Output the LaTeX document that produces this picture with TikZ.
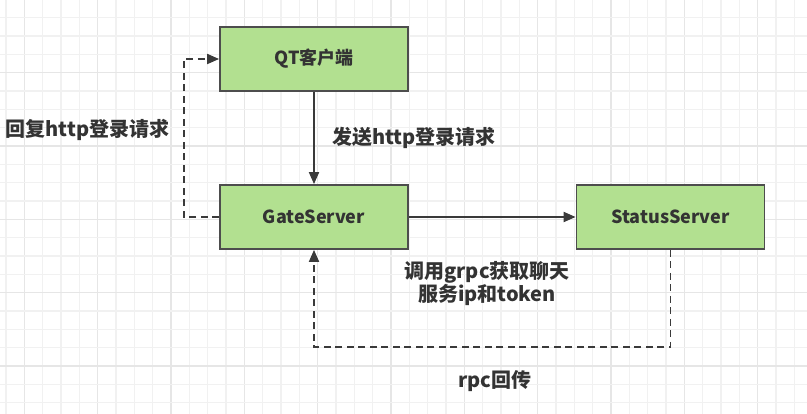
\documentclass[tikz,border=0pt]{standalone}
\usepackage{fontspec}
\setmainfont{Noto Sans CJK SC}
\usetikzlibrary{arrows.meta}
\definecolor{gridminor}{HTML}{F1F1F1}
\definecolor{gridmajor}{HTML}{E6E6E6}
\definecolor{boxfill}{HTML}{B2E090}
\definecolor{boxline}{HTML}{4D4D4D}
\definecolor{txt}{HTML}{333333}
\definecolor{wire}{HTML}{3A3A3A}
\tikzset{
  box/.style={draw=boxline, line width=1.8pt, fill=boxfill, minimum width=188pt, minimum height=64pt, inner sep=0pt, font=\fontsize{18}{20}\selectfont\bfseries, text=txt},
  lbl/.style={font=\fontsize{20}{23.5}\selectfont\bfseries, text=txt, inner sep=0pt, align=center},
  arr/.style={draw=wire, line width=1.8pt, -{Triangle[length=12pt,width=10pt]}},
  darr/.style={arr, dash pattern=on 7pt off 4.5pt},
}
\begin{document}
\begin{tikzpicture}[x=1pt,y=-1pt]
\useasboundingbox (0,0) rectangle (807,414);
\fill[white] (0,0) rectangle (807,414);
% grid
\foreach \k in {0,...,44} {
  \pgfmathsetmacro{\xx}{6.0+18.333*\k}
  \pgfmathtruncatemacro{\m}{mod(\k,4)}
  \ifnum\m=1
    \draw[gridmajor, line width=1.5pt] (\xx,0) -- (\xx,414);
  \else
    \draw[gridminor, line width=1.2pt] (\xx,0) -- (\xx,414);
  \fi
}
\foreach \k in {0,...,23} {
  \pgfmathsetmacro{\yy}{-0.6+18.333*\k}
  \pgfmathtruncatemacro{\m}{mod(\k,4)}
  \ifnum\m=0
    \draw[gridmajor, line width=1.5pt] (0,\yy) -- (807,\yy);
  \else
    \draw[gridminor, line width=1.2pt] (0,\yy) -- (807,\yy);
  \fi
}
% nodes
\node[box] (qt) at (314,59) {QT客户端};
\node[box] (gate) at (314,217) {GateServer};
\node[box] (status) at (670.5,217) {StatusServer};
% connectors
\draw[arr] (qt) -- (gate);
\draw[arr] (gate) -- (status);
\coordinate (lc) at (184,217);
\draw[darr] (gate.west) -- (lc) |- (qt.west);
\coordinate (bc) at (670.5,347);
\draw[darr] (status.south) -- (bc) -| (gate.south);
% labels
\node[lbl] (l1) at (414,138) {发送http登录请求};
\node[lbl] (l2) at (87.5,130) {回复http登录请求};
\node[lbl] (l3) at (487,283.5) {调用grpc获取聊天\\服务ip和token};
\node[lbl] (l4) at (495,381.5) {rpc回传};
\end{tikzpicture}
\end{document}
